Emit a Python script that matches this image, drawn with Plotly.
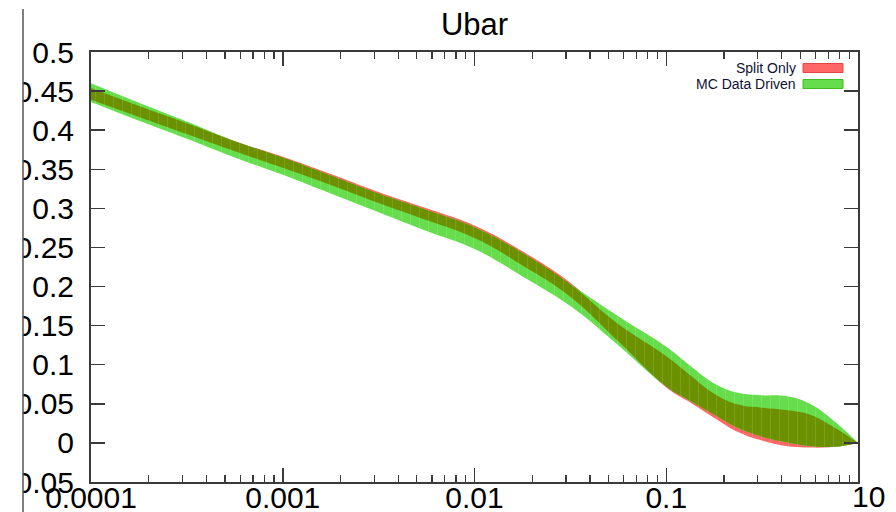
import numpy as np
import plotly.graph_objects as go

# ---------------- data ----------------
x_vals = [1e-4, 1.78e-4, 3.16e-4, 5.62e-4, 1e-3, 1.78e-3, 3.16e-3, 5.62e-3,
          0.01, 0.0178, 0.0316, 0.0562, 0.1, 0.133, 0.178, 0.237, 0.316,
          0.422, 0.562, 0.750, 1.0]

mc_hi = [0.460, 0.435, 0.411, 0.386, 0.365, 0.342, 0.319, 0.298, 0.276, 0.243,
         0.203, 0.162, 0.123, 0.099, 0.076, 0.064, 0.061, 0.060, 0.050, 0.028, 0.0]
mc_lo = [0.436, 0.412, 0.389, 0.365, 0.343, 0.319, 0.295, 0.271, 0.248, 0.213,
         0.175, 0.125, 0.072, 0.054, 0.036, 0.019, 0.008, 0.001, -0.004, -0.005, 0.0]
split_hi = [0.454, 0.431, 0.409, 0.386, 0.366, 0.344, 0.321, 0.300, 0.278, 0.245,
            0.205, 0.152, 0.111, 0.087, 0.063, 0.049, 0.045, 0.042, 0.036, 0.020, 0.0]
split_lo = [0.439, 0.417, 0.395, 0.373, 0.352, 0.330, 0.307, 0.285, 0.262, 0.227,
            0.187, 0.130, 0.071, 0.052, 0.032, 0.014, 0.003, -0.004, -0.006, -0.005, 0.0]

series_names = ["Split Only", "MC Data Driven"]
x_tickvals = [1e-4, 1e-3, 1e-2, 1e-1]
x_ticktext = ["0.0001", "0.001", "0.01", "0.1"]
x_last_label = "10"
y_tickvals = [-0.05, 0, 0.05, 0.1, 0.15, 0.2, 0.25, 0.3, 0.35, 0.4, 0.45, 0.5]
y_ticktext = ["-0.05", "0", "0.05", "0.1", "0.15", "0.2", "0.25", "0.3", "0.35", "0.4", "0.45", "0.5"]
title_text = "Ubar"

# ---------------- styles ----------------
RED = "#FF6666"
GREEN = "#66DD4C"
OLIVE = "#6B9100"
FONT = "Liberation Sans, Arial, Helvetica, sans-serif"
AXC = "#3a3a3a"

W, H = 896, 512
L, R, T, B = 91, 858, 52, 482


def px_x(p):
    return (p - L) / (R - L)


def px_y(p):
    return (B - p) / (B - T)


def band(fig, xs, lo, hi, color, name):
    common = dict(mode="lines", showlegend=False, hoverinfo="skip")
    fig.add_trace(go.Scatter(x=list(xs), y=list(lo), name=name,
                             line=dict(width=0, shape="spline", smoothing=1.2), **common))
    fig.add_trace(go.Scatter(
        x=list(xs), y=list(hi), name=name,
        fill="tonexty", fillcolor=color,
        fillpattern=dict(shape="|", bgcolor=color, fgcolor="rgba(255,255,255,0.22)",
                         size=9, solidity=0.12, fillmode="overlay"),
        line=dict(width=0, shape="spline", smoothing=1.2), **common))


ov_lo = np.maximum(split_lo, mc_lo)
ov_hi = np.minimum(split_hi, mc_hi)

fig = go.Figure()
band(fig, x_vals, split_lo, split_hi, RED, series_names[0])
band(fig, x_vals, mc_lo, mc_hi, GREEN, series_names[1])
band(fig, x_vals, ov_lo, ov_hi, OLIVE, "overlap")

fig.update_layout(
    width=W, height=H,
    margin=dict(l=L, r=W - R, t=T, b=H - B, autoexpand=False),
    paper_bgcolor="white", plot_bgcolor="white",
    font=dict(family=FONT, color="black"),
    title=dict(text=title_text, x=474.5 / W, xanchor="center", xref="container",
               y=1 - 24 / H, yanchor="middle", yref="container",
               font=dict(size=31, family=FONT, color="black")),
    showlegend=False,
)

fig.update_xaxes(
    type="log", range=[-4, 0], automargin=False,
    tickvals=x_tickvals, ticktext=x_ticktext,
    ticks="inside", ticklen=14, tickwidth=1.5, tickcolor=AXC,
    minor=dict(ticks="inside", ticklen=7, tickwidth=1.2, tickcolor=AXC, dtick="D1", showgrid=False),
    showline=True, linecolor=AXC, linewidth=2, mirror="allticks",
    showgrid=False, zeroline=False,
    tickfont=dict(size=30, family=FONT, color="black"),
    ticklabelstandoff=-12,
)
fig.update_yaxes(
    range=[-0.05, 0.5], automargin=False,
    tickvals=y_tickvals, ticktext=y_ticktext,
    ticks="inside", ticklen=14, tickwidth=1.5, tickcolor=AXC,
    showline=True, linecolor=AXC, linewidth=2, mirror="allticks",
    showgrid=False, zeroline=False,
    tickfont=dict(size=30, family=FONT, color="black"),
    ticklabelstandoff=9,
)

# last x label, shifted like in the reference
fig.add_annotation(x=0, y=-0.05, xref="x", yref="y", text=x_last_label, showarrow=False,
                   xanchor="center", yanchor="top", xshift=10, yshift=4,
                   font=dict(size=30, family=FONT, color="black"))

# legend (text left of swatch)
leg_rows = [(68, RED, "#E04848"), (84, GREEN, "#44BB22")]
for (yc, fc, lc), nm in zip(leg_rows, series_names):
    fig.add_annotation(x=px_x(798), y=px_y(yc), xref="paper", yref="paper", text=nm,
                       showarrow=False, xanchor="right", yanchor="middle",
                       font=dict(size=14, family=FONT, color="#111133"))
    fig.add_shape(type="rect", xref="paper", yref="paper",
                  x0=px_x(803), x1=px_x(843), y0=px_y(yc - 4.5), y1=px_y(yc + 4.5),
                  fillcolor=fc, line=dict(color=lc, width=1), layer="above")

# cropped left edge of the original image
fig.add_shape(type="rect", xref="paper", yref="paper",
              x0=px_x(-5), x1=px_x(23), y0=px_y(520), y1=px_y(-5),
              fillcolor="white", line=dict(width=0), layer="above")
fig.add_shape(type="line", xref="paper", yref="paper",
              x0=px_x(23), x1=px_x(23), y0=px_y(9), y1=px_y(515),
              line=dict(color="#555555", width=1.5), layer="above")

fig.write_html("out.html", config={"displayModeBar": False, "staticPlot": True},
               post_script="document.body.style.margin='0';document.body.style.overflow='hidden';")
